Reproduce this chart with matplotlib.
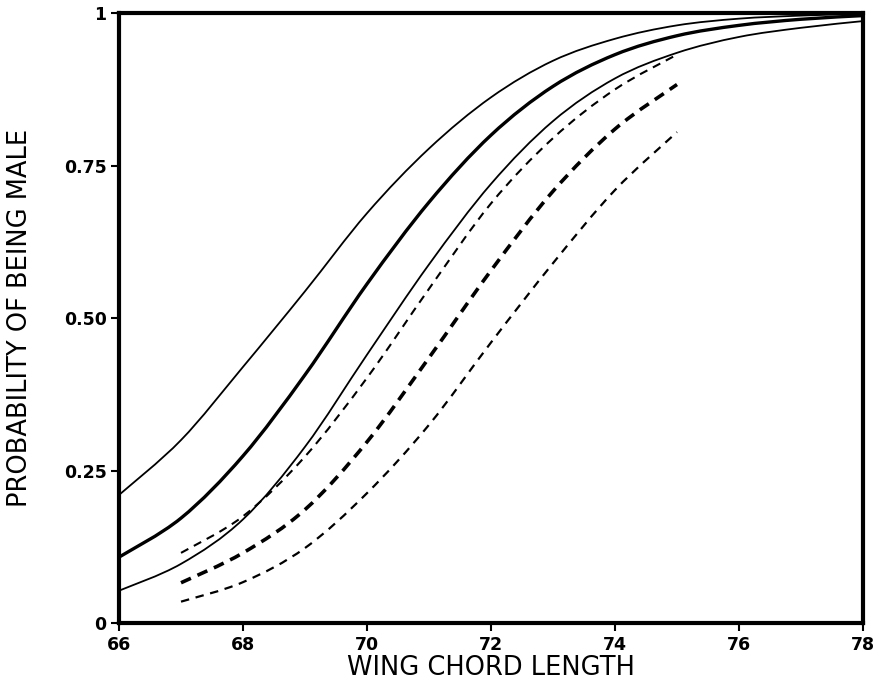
import numpy as np
import matplotlib
matplotlib.use("Agg")
import matplotlib.pyplot as plt
from matplotlib.path import Path
from matplotlib.patches import PathPatch

# Wing chord length (x) and probability of being male (y)
x_full = [66, 67, 68, 69, 70, 71, 72, 73, 74, 75, 76, 77, 78]
solid_upper = [0.21, 0.30, 0.42, 0.544, 0.672, 0.778, 0.862, 0.922, 0.958, 0.980, 0.991, 0.996, 0.999]
solid_mid = [0.108, 0.172, 0.274, 0.407, 0.556, 0.690, 0.800, 0.880, 0.932, 0.963, 0.980, 0.990, 0.996]
solid_lower = [0.053, 0.097, 0.170, 0.289, 0.440, 0.588, 0.720, 0.823, 0.893, 0.935, 0.961, 0.976, 0.987]

x_short = [67, 68, 69, 70, 71, 72, 73, 74, 75]
dashed_upper = [0.115, 0.175, 0.273, 0.402, 0.548, 0.688, 0.795, 0.875, 0.932]
dashed_mid = [0.066, 0.115, 0.186, 0.297, 0.435, 0.578, 0.708, 0.810, 0.883]
dashed_lower = [0.035, 0.067, 0.123, 0.213, 0.325, 0.460, 0.590, 0.710, 0.805]

x_ticks = [66, 68, 70, 72, 74, 76, 78]
y_ticks = [0, 0.25, 0.5, 0.75, 1]
y_ticklabels = ["0", "0.25", "0.50", "0.75", "1"]


def smooth_path(xs, ys):
    """Catmull-Rom curve through the points, as cubic Bezier path segments."""
    pts = np.column_stack([xs, ys]).astype(float)
    n = len(pts)
    verts = [pts[0]]
    codes = [Path.MOVETO]
    for i in range(n - 1):
        p0 = pts[i - 1] if i > 0 else pts[i]
        p1 = pts[i]
        p2 = pts[i + 1]
        p3 = pts[i + 2] if i + 2 < n else pts[i + 1]
        c1 = p1 + (p2 - p0) / 6.0
        c2 = p2 - (p3 - p1) / 6.0
        verts += [c1, c2, p2]
        codes += [Path.CURVE4] * 3
    return Path(verts, codes)


fig = plt.figure(figsize=(8.79, 6.93), dpi=100)
ax = fig.add_axes([0.1354, 0.101, 0.8464, 0.880])

styles = [
    (x_full, solid_upper, dict(lw=1.3, linestyle="-")),
    (x_full, solid_mid, dict(lw=2.4, linestyle="-")),
    (x_full, solid_lower, dict(lw=1.3, linestyle="-")),
    (x_short, dashed_upper, dict(lw=1.5, linestyle=(0, (4.0, 3.0)))),
    (x_short, dashed_mid, dict(lw=2.6, linestyle=(0, (3.0, 2.0)))),
    (x_short, dashed_lower, dict(lw=1.6, linestyle=(0, (3.8, 3.0)))),
]
for xs, ys, st in styles:
    patch = PathPatch(smooth_path(xs, ys), facecolor="none", edgecolor="black",
                      capstyle="butt", **st)
    ax.add_patch(patch)

ax.set_xlim(66, 78)
ax.set_ylim(0, 1)
ax.set_xticks(x_ticks)
ax.set_xticklabels([str(t) for t in x_ticks])
ax.set_yticks(y_ticks)
ax.set_yticklabels(y_ticklabels)

for sp in ax.spines.values():
    sp.set_linewidth(3.0)
    sp.set_color("black")

ax.tick_params(direction="out", length=6, width=1.5, labelsize=12.5, pad=3)
for lab in ax.get_xticklabels() + ax.get_yticklabels():
    lab.set_fontweight("bold")

ax.set_xlabel("WING CHORD LENGTH", fontsize=18.5, labelpad=1)
ax.set_ylabel("PROBABILITY OF BEING MALE", fontsize=18.5, labelpad=22)

fig.savefig("out.png", dpi=100)
